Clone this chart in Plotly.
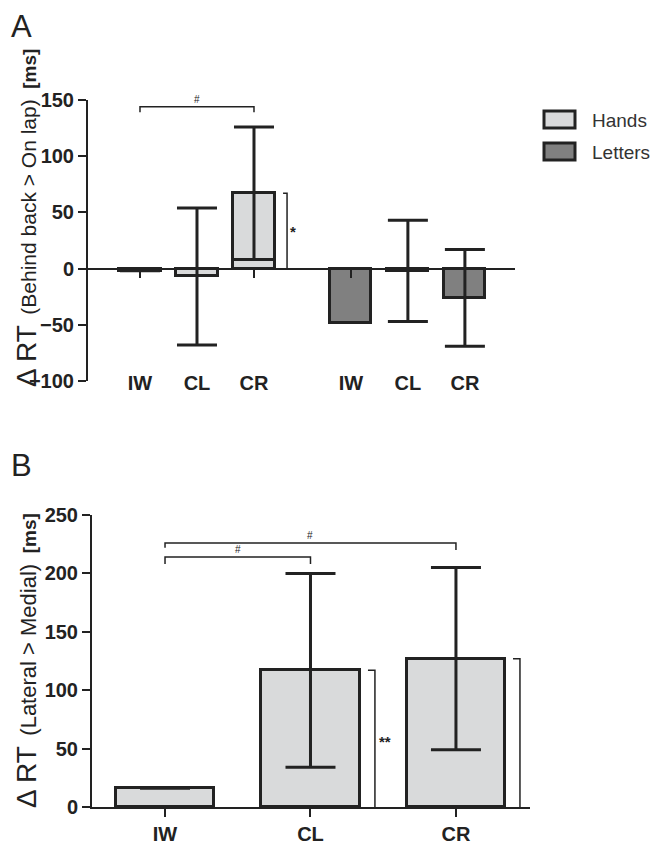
import plotly.graph_objects as go

# ---------------- data ----------------
conditions = ["IW", "CL", "CR"]
series_names = ["Hands", "Letters"]
hands_a = [-2, -7, 67]
hands_a_err = [None, 61, 59]
letters_a = [-48, -2, -26]
letters_a_err = [None, 45, 43]

lateral_b = [16, 117, 127]
lateral_b_err = [None, 83, 78]

yticks_a = [-100, -50, 0, 50, 100, 150]
yticks_b = [0, 50, 100, 150, 200, 250]

# ---------------- layout constants ----------------
OFF = 8                      # page body margin of the exported html
W, H = 664 - OFF, 846 - OFF  # figure size that fits the window
INK = "#222222"
FONT = "Arial, Liberation Sans, sans-serif"
HANDS_C = "#d9dadb"
LETTERS_C = "#808080"
group_gap = 1.7
pos_h = [0, 1, 2]
pos_l = [p + 2 + group_gap for p in pos_h]
pos_b = [0, 1, 2]

def X(v):  # window pixel -> paper fraction
    return (v - OFF) / W

def Y(v):
    return 1 - (v - OFF) / H

xa_dom = [X(88), X(515)]
ya_dom = [Y(381), Y(100)]
xb_dom = [X(92), X(530)]
yb_dom = [Y(807), Y(515)]
ya_range = [-100, 150]
zero_pos = ya_dom[0] + (0 - ya_range[0]) / (ya_range[1] - ya_range[0]) * (ya_dom[1] - ya_dom[0])

fig = go.Figure()

def err(vals, w):
    return dict(type="data", array=vals, visible=True, color=INK, thickness=3, width=w)

fig.add_trace(go.Bar(x=pos_h, y=hands_a, width=0.72, name=series_names[0],
                     marker=dict(color=HANDS_C, line=dict(color=INK, width=3)),
                     error_y=err(hands_a_err, 20), xaxis="x", yaxis="y"))
fig.add_trace(go.Bar(x=pos_l, y=letters_a, width=0.72, name=series_names[1],
                     marker=dict(color=LETTERS_C, line=dict(color=INK, width=3)),
                     error_y=err(letters_a_err, 20), xaxis="x", yaxis="y"))
fig.add_trace(go.Bar(x=pos_b, y=lateral_b, width=0.674, name="Lateral > Medial",
                     marker=dict(color=HANDS_C, line=dict(color=INK, width=3)),
                     error_y=err(lateral_b_err, 25), xaxis="x2", yaxis="y2"))

ax_common = dict(showgrid=False, zeroline=False, linecolor=INK, linewidth=2,
                 tickcolor=INK, tickwidth=2, ticklen=8, automargin=False)
tickfont = dict(family=FONT, size=20, color=INK, weight="bold")

xr_a = [-0.912, 6.579]
xr_b = [-0.502, 2.509]

fig.update_layout(
    width=W, height=H, margin=dict(l=0, r=0, t=0, b=0, autoexpand=False),
    paper_bgcolor="white", plot_bgcolor="white",
    font=dict(family=FONT, color=INK),
    bargap=0, showlegend=False,
    xaxis=dict(domain=xa_dom, range=xr_a, anchor="free", position=zero_pos,
               showline=True, ticks="outside", tickvals=pos_h + pos_l,
               showticklabels=False, **ax_common),
    xaxis3=dict(domain=xa_dom, range=xr_a, overlaying="x", anchor="free",
                position=ya_dom[0] + 12 / H, showline=False, ticks="",
                tickvals=pos_h + pos_l, ticktext=conditions + conditions,
                tickfont=tickfont, showgrid=False, zeroline=False, automargin=False),
    yaxis=dict(domain=ya_dom, range=ya_range, anchor="x", showline=True,
               ticks="outside", tickvals=yticks_a, tickfont=tickfont, **ax_common),
    xaxis2=dict(domain=xb_dom, range=xr_b, anchor="y2", showline=True,
                ticks="outside", tickvals=pos_b, ticktext=conditions,
                tickfont=tickfont, **ax_common),
    yaxis2=dict(domain=yb_dom, range=[0, 250], anchor="x2", showline=True,
                ticks="outside", tickvals=yticks_b, tickfont=tickfont, **ax_common),
)
# invisible trace so the label axis (xaxis3) renders
fig.add_trace(go.Scatter(x=[pos_h[0]], y=[0], xaxis="x3", yaxis="y", mode="markers",
                         marker=dict(opacity=0), showlegend=False, hoverinfo="skip"))

# ---------------- significance markers ----------------
br = dict(color=INK, width=1.5)
shapes = []
annots = []

def hbracket(xref, yref, x0, x1, y, yl, yr, label, size=10):
    shapes.append(dict(type="path", xref=xref, yref=yref, line=br,
                       path=f"M{x0},{yl} L{x0},{y} L{x1},{y} L{x1},{yr}"))
    annots.append(dict(xref=xref, yref=yref, x=(x0 + x1) / 2, y=y, text=label,
                       yanchor="bottom", showarrow=False,
                       font=dict(family=FONT, size=size, color=INK)))

def vbracket(xref, yref, x, xs, ytop, ybot, label, lx, ly, size=15):
    shapes.append(dict(type="path", xref=xref, yref=yref, line=br,
                       path=f"M{xs},{ytop} L{x},{ytop} L{x},{ybot}"))
    if label:
        annots.append(dict(xref=xref, yref=yref, x=lx, y=ly, text=label, showarrow=False,
                           font=dict(family=FONT, size=size, color=INK, weight="bold")))

# panel A
hbracket("x", "y", pos_h[0], pos_h[2], 144, 139, 139, "#")
vbracket("x", "y", 2.58, 2.51, hands_a[2], 0, "*", 2.69, 33)
# panel B
hbracket("x2", "y2", pos_b[0], pos_b[1], 214, 208, 208, "#")
hbracket("x2", "y2", pos_b[0], pos_b[2], 226, 222, 220, "#")
vbracket("x2", "y2", 1.443, 1.395, lateral_b[1], 0, "**", 1.515, 56)
vbracket("x2", "y2", 2.44, 2.392, lateral_b[2], 0, "", 0, 0)

# ---------------- y-axis titles ----------------
def ytitle(text, cy):
    annots.append(dict(xref="paper", yref="paper", x=X(26), y=Y(cy), text=text,
                       textangle=-90, showarrow=False, xanchor="center", yanchor="middle",
                       borderpad=0, font=dict(family=FONT, size=19, color=INK)))

ytitle('<span style="font-size:28px">Δ RT</span>  '
       '<span style="font-size:21px">(Behind back &gt; On lap)</span>  '
       '<b>[ms]</b>', 218)
ytitle('<span style="font-size:28px">Δ RT</span>  '
       '<span style="font-size:22px">(Lateral &gt; Medial)</span>  '
       '<b>[ms]</b>', 661)

# ---------------- legend (drawn as guide) ----------------
for i, (name, col) in enumerate(zip(series_names, [HANDS_C, LETTERS_C])):
    top = 111 + 32 * i
    shapes.append(dict(type="rect", xref="paper", yref="paper",
                       x0=X(544), x1=X(575), y0=Y(top), y1=Y(top + 17),
                       fillcolor=col, line=dict(color=INK, width=3)))
    annots.append(dict(xref="paper", yref="paper", x=X(590), y=Y(top + 9),
                       text=name, showarrow=False, xanchor="left", yanchor="middle",
                       font=dict(family=FONT, size=19, color="#333333")))

# panel letters
annots.append(dict(xref="paper", yref="paper", x=X(10), y=Y(8.5), text="A",
                   showarrow=False, xanchor="left", yanchor="top", borderpad=0,
                   font=dict(family=FONT, size=31, color=INK)))
annots.append(dict(xref="paper", yref="paper", x=X(10), y=Y(465), text="B",
                   showarrow=False, xanchor="left", yanchor="middle", borderpad=0,
                   font=dict(family=FONT, size=31, color=INK)))

fig.update_layout(shapes=shapes, annotations=annots)
fig.write_html("out.html")
